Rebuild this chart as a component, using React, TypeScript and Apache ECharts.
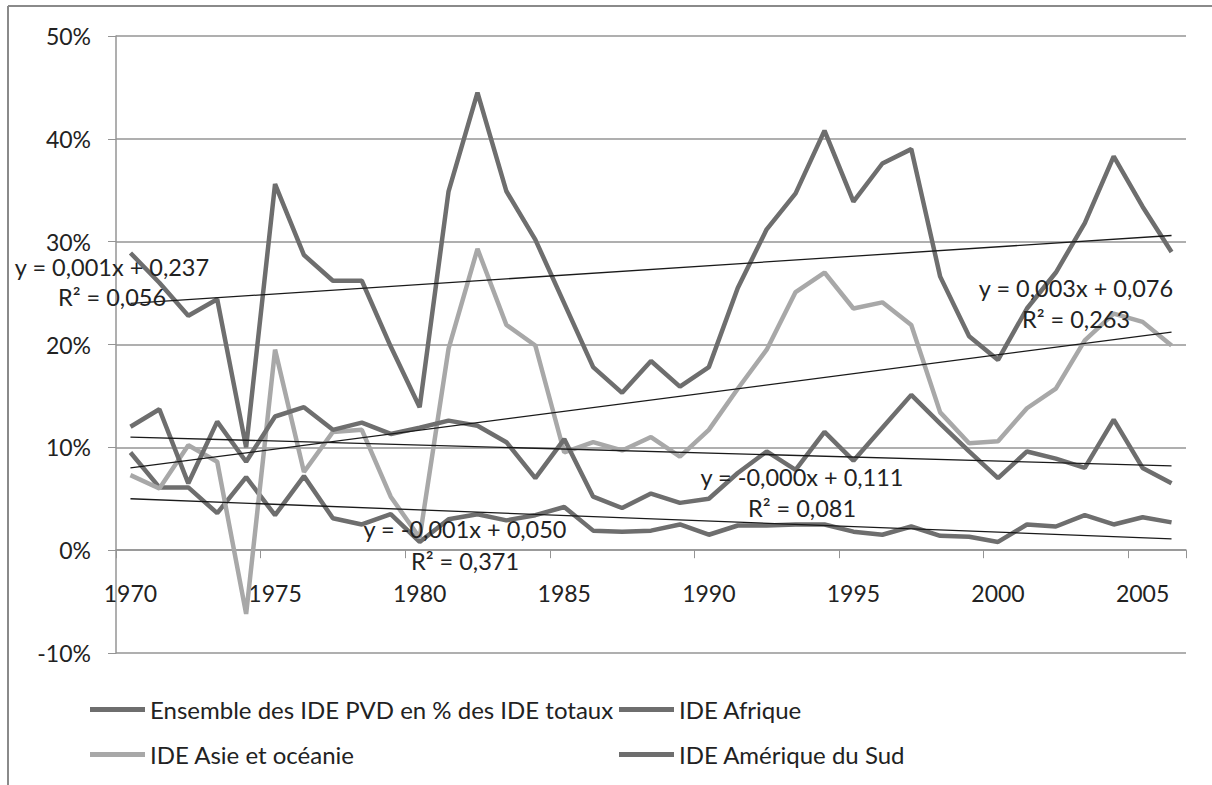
import React, { useEffect, useRef } from "react";
import * as echarts from "echarts";

const years = [
  "1970","1971","1972","1973","1974","1975","1976","1977","1978","1979",
  "1980","1981","1982","1983","1984","1985","1986","1987","1988","1989",
  "1990","1991","1992","1993","1994","1995","1996","1997","1998","1999",
  "2000","2001","2002","2003","2004","2005","2006",
];

const ensemble = [
  28.9, 26.0, 22.8, 24.4, 10.0, 35.6, 28.7, 26.2, 26.2, 19.8,
  13.9, 34.9, 44.5, 34.9, 30.2, 24.0, 17.8, 15.3, 18.4, 15.9,
  17.8, 25.5, 31.2, 34.7, 40.8, 33.9, 37.6, 39.0, 26.6, 20.8,
  18.5, 23.5, 27.0, 31.8, 38.3, 33.4, 29.0,
];

const afrique = [
  9.5, 6.1, 6.1, 3.6, 7.1, 3.4, 7.2, 3.1, 2.5, 3.5,
  0.8, 3.0, 3.5, 2.9, 3.4, 4.2, 1.9, 1.8, 1.9, 2.5,
  1.5, 2.4, 2.4, 2.5, 2.5, 1.8, 1.5, 2.3, 1.4, 1.3,
  0.8, 2.5, 2.3, 3.4, 2.5, 3.2, 2.7,
];

const asie = [
  7.3, 6.0, 10.2, 8.6, -6.2, 19.5, 7.6, 11.5, 11.7, 5.2,
  1.2, 19.6, 29.3, 21.9, 19.9, 9.5, 10.5, 9.7, 11.0, 9.1,
  11.7, 15.7, 19.5, 25.1, 27.0, 23.5, 24.1, 21.9, 13.4, 10.4,
  10.6, 13.8, 15.7, 20.4, 23.0, 22.2, 19.9,
];

const amerique = [
  12.0, 13.7, 6.5, 12.5, 8.6, 13.0, 13.9, 11.7, 12.4, 11.3,
  11.9, 12.6, 12.1, 10.5, 7.0, 10.8, 5.2, 4.1, 5.5, 4.6,
  5.0, 7.5, 9.6, 7.8, 11.5, 8.7, 11.9, 15.1, 12.3, 9.6,
  7.0, 9.6, 8.9, 8.0, 12.7, 8.0, 6.5,
];

// Trend line end points (1970, 2006)
const trendEnsemble = [24.0, 30.6];
const trendAfrique = [5.0, 1.1];
const trendAsie = [8.0, 21.2];
const trendAmerique = [11.0, 8.2];

const seriesNames = [
  "Ensemble des IDE PVD en % des IDE totaux",
  "IDE Afrique",
  "IDE Asie et océanie",
  "IDE Amérique du Sud",
];

const trendLabels = [
  { eq: "y = 0,001x + 0,237", r2: "R² = 0,056", cx: 112, ey: 267, ry: 297 },
  { eq: "y = 0,003x + 0,076", r2: "R² = 0,263", cx: 1076, ey: 288, ry: 319 },
  { eq: "y = -0,000x + 0,111", r2: "R² = 0,081", cx: 802, ey: 477, ry: 508 },
  { eq: "y = -0,001x + 0,050", r2: "R² = 0,371", cx: 465, ey: 529, ry: 561 },
];

const FONT = "Lato, 'Open Sans', sans-serif";
const DARK = "#6e6e6e";
const LIGHT = "#a8a8a8";
const GRID = "#949494";

function trendData(pair: number[]) {
  return years.map((_, i) => (i === 0 ? pair[0] : i === years.length - 1 ? pair[1] : null));
}

export default function App() {
  const ref = useRef<HTMLDivElement>(null);
  useEffect(() => {
    if (!ref.current) return;
    const chart = echarts.init(ref.current, undefined, { renderer: "svg" });
    const lineSeries = (name: string, data: number[], color: string) => ({
      name,
      type: "line",
      data,
      symbol: "none",
      lineStyle: { color, width: 4.5 },
      itemStyle: { color },
      z: 2,
    });
    const trendSeries = (name: string, pair: number[]) => ({
      name,
      type: "line",
      data: trendData(pair),
      connectNulls: true,
      symbol: "none",
      silent: true,
      lineStyle: { color: "#1a1a1a", width: 1.3 },
      itemStyle: { color: "#1a1a1a" },
      z: 3,
    });
    const graphics: any[] = [
      { type: "line", shape: { x1: 8, y1: 6, x2: 1212, y2: 6 }, style: { stroke: "#8a8a8a", lineWidth: 2 } },
      { type: "line", shape: { x1: 8, y1: 6, x2: 8, y2: 785 }, style: { stroke: "#8a8a8a", lineWidth: 2 } },
    ];
    trendLabels.forEach((t) => {
      graphics.push({
        type: "text",
        x: t.cx,
        y: t.ey,
        z: 10,
        style: { text: t.eq, fill: "#222", font: `23.5px ${FONT}`, align: "center", verticalAlign: "middle" },
      });
      graphics.push({
        type: "text",
        x: t.cx,
        y: t.ry,
        z: 10,
        style: { text: t.r2, fill: "#222", font: `23.5px ${FONT}`, align: "center", verticalAlign: "middle" },
      });
    });
    const legendCommon = {
      orient: "vertical",
      top: 697,
      padding: 0,
      itemWidth: 55,
      itemHeight: 5,
      itemGap: 20,
      icon: "rect",
      selectedMode: false,
      textStyle: { fontFamily: FONT, fontSize: 24, color: "#222", lineHeight: 25 },
    };
    chart.setOption({
      animation: false,
      backgroundColor: "#ffffff",
      textStyle: { fontFamily: FONT },
      grid: { left: 116, right: 26, top: 36, bottom: 132, containLabel: false },
      legend: [
        { ...legendCommon, left: 90, data: [seriesNames[0], seriesNames[2]] },
        { ...legendCommon, left: 619, data: [seriesNames[1], seriesNames[3]] },
      ],
      xAxis: {
        type: "category",
        data: years,
        boundaryGap: true,
        position: "bottom",
        offset: -102.8,
        axisLine: { onZero: false, lineStyle: { color: GRID, width: 1.5 } },
        axisTick: { show: true, interval: 4, length: 8, lineStyle: { color: GRID } },
        axisLabel: { interval: 4, margin: 31, fontSize: 23, color: "#222", fontFamily: FONT },
        splitLine: { show: false },
      },
      yAxis: {
        type: "value",
        min: -10,
        max: 50,
        interval: 10,
        axisLine: { show: true, lineStyle: { color: GRID, width: 1.5 } },
        axisTick: { show: true, length: 8, lineStyle: { color: GRID } },
        axisLabel: { formatter: "{value}%", margin: 25, fontSize: 23, color: "#222", fontFamily: FONT },
        splitLine: { show: true, lineStyle: { color: GRID, width: 1.5 } },
      },
      series: [
        lineSeries(seriesNames[0], ensemble, DARK),
        lineSeries(seriesNames[1], afrique, DARK),
        lineSeries(seriesNames[2], asie, LIGHT),
        lineSeries(seriesNames[3], amerique, DARK),
        trendSeries("trend-ensemble", trendEnsemble),
        trendSeries("trend-afrique", trendAfrique),
        trendSeries("trend-asie", trendAsie),
        trendSeries("trend-amerique", trendAmerique),
      ],
      graphic: graphics,
    });
    return () => chart.dispose();
  }, []);
  return (
    <div
      ref={ref}
      style={{ position: "fixed", left: 0, top: 0, width: 1212, height: 785, background: "#fff" }}
    />
  );
}
